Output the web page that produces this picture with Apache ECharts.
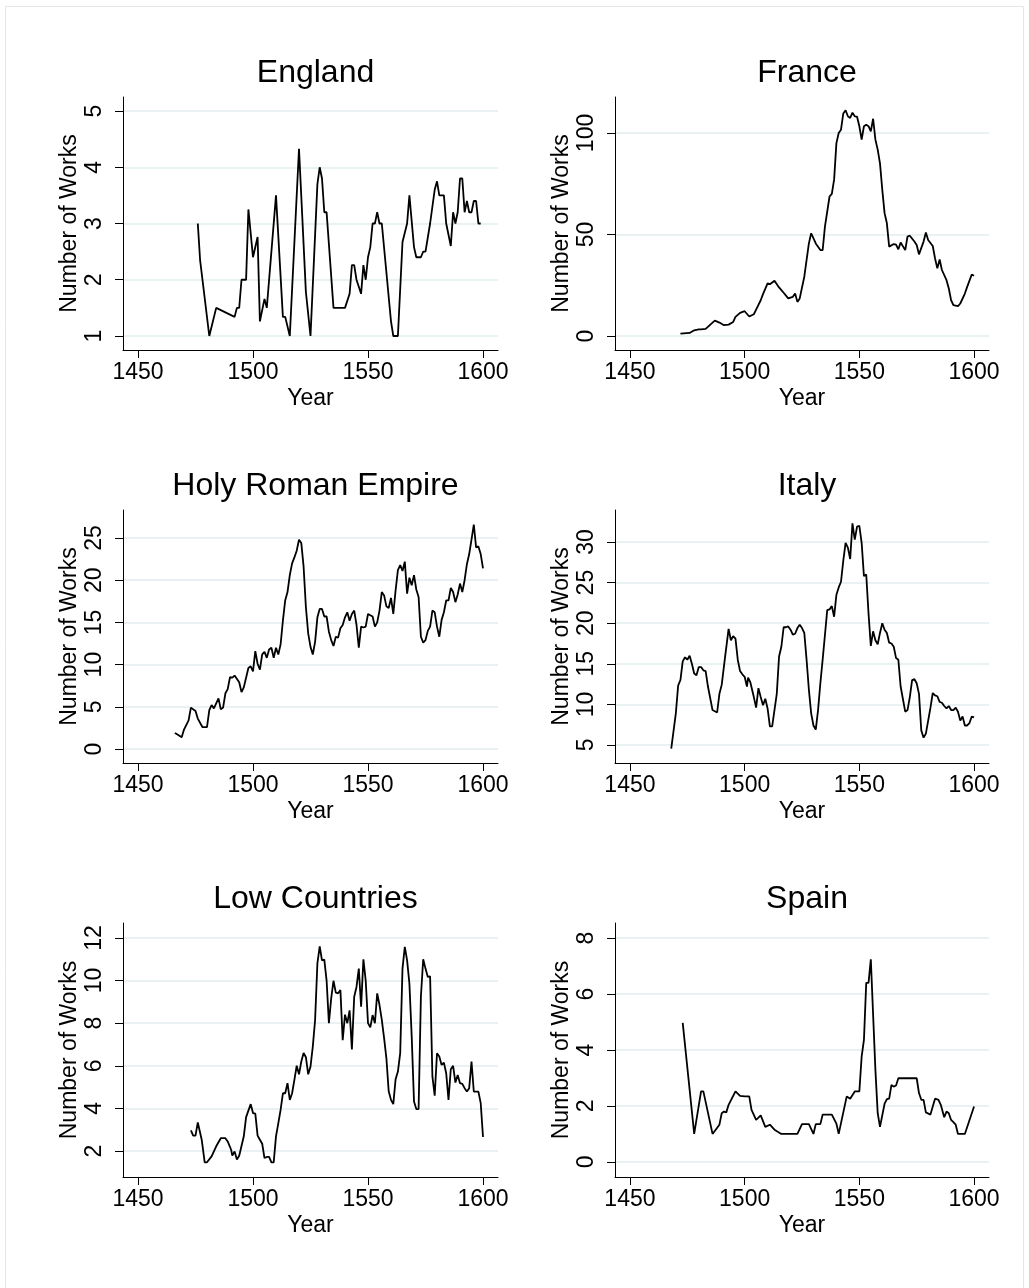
<!DOCTYPE html>
<html>
<head>
<meta charset="utf-8">
<script src="https://cdn.jsdelivr.net/npm/echarts@6/dist/echarts.min.js"></script>
<style>
html,body{margin:0;padding:0;background:#fff;}
#chart{width:1029px;height:1288px;}
</style>
</head>
<body>
<div id="chart"></div>
<script>
// ---------- DATA ----------
const panelTitles = ["England", "France", "Holy Roman Empire", "Italy", "Low Countries", "Spain"];
const xTickLabels = [1450, 1500, 1550, 1600];

const englandYears = [1476,1477,1481,1484,1492,1493,1494,1495,1497,1498,1500,1502,1503,1505,1506,1510,1513,1514,1516,1520,1523,1525,1528,1529,1530,1531,1532,1535,1540,1542,1543,1544,1545,1547,1548,1549,1550,1551,1552,1553,1554,1555,1556,1560,1561,1563,1565,1567,1568,1570,1571,1573,1574,1575,1577,1579,1580,1581,1583,1584,1586,1587,1588,1589,1590,1591,1592,1593,1594,1595,1596,1597,1598,1599];
const englandValues = [3.0,2.35,1.0,1.5,1.34,1.5,1.5,2.0,2.0,3.25,2.4,2.76,1.26,1.66,1.5,3.5,1.34,1.34,1.0,4.33,1.78,1.0,3.7,4.0,3.8,3.2,3.2,1.5,1.5,1.75,2.26,2.26,2.0,1.75,2.26,2.0,2.4,2.58,3.0,3.0,3.2,3.0,3.0,1.26,1.0,1.0,2.67,3.0,3.5,2.58,2.4,2.4,2.5,2.5,3.0,3.6,3.75,3.5,3.5,3.0,2.6,3.2,3.0,3.2,3.8,3.8,3.2,3.4,3.2,3.2,3.4,3.4,3.0,3.0];
const englandTicks = [1, 2, 3, 4, 5];

const franceYears = [1472,1476,1478,1480,1481,1483,1486,1487,1489,1491,1493,1495,1496,1498,1500,1502,1504,1505,1507,1508,1510,1511,1513,1515,1517,1519,1521,1522,1523,1524,1526,1528,1529,1531,1533,1534,1535,1537,1538,1539,1540,1541,1542,1543,1544,1545,1546,1547,1548,1549,1550,1551,1552,1553,1554,1555,1556,1557,1558,1559,1560,1561,1562,1563,1565,1566,1567,1568,1570,1571,1572,1574,1575,1576,1578,1579,1580,1582,1583,1584,1585,1586,1588,1589,1590,1591,1593,1594,1596,1597,1599,1600];
const franceValues = [1.2,1.5,2.8,3.3,3.3,3.5,6.6,7.6,6.6,5.3,5.6,6.9,9.4,11.4,12.2,9.6,10.7,13,17.6,20.6,25.9,25.5,27.2,23.9,21.3,18.5,19.3,20.9,16.8,18.5,29.2,45.6,50.6,45.6,42.3,42.3,53.9,68.7,70,77,95,100,101.6,109.6,111.2,108.2,107.4,110,108.2,108,103.3,96.7,103.3,104,103.3,100.8,107,96.7,91.8,85,72,60.5,55.5,44,45.3,45,42.7,46,42.3,49,49.4,46.5,44.8,40.2,46.5,51,47.3,44.3,38.2,33.3,37.7,32.5,27.5,23.4,17.6,15.2,14.7,16,20.9,24.2,30.3,29.7];
const franceTicks = [0, 50, 100];

const hreYears = [1466,1467,1469,1470,1472,1473,1475,1476,1478,1480,1481,1482,1483,1485,1486,1487,1488,1489,1490,1491,1492,1494,1495,1496,1498,1499,1500,1501,1502,1503,1504,1505,1506,1507,1508,1509,1510,1511,1512,1513,1514,1515,1516,1517,1518,1519,1520,1521,1522,1523,1524,1525,1526,1527,1528,1529,1530,1531,1532,1533,1534,1535,1536,1537,1538,1539,1540,1541,1542,1543,1544,1545,1546,1547,1548,1549,1550,1552,1553,1554,1555,1556,1557,1558,1559,1560,1561,1562,1563,1564,1565,1566,1567,1568,1569,1570,1571,1572,1573,1574,1575,1576,1577,1578,1579,1580,1581,1582,1583,1584,1585,1586,1587,1588,1589,1590,1591,1592,1593,1594,1595,1596,1597,1598,1599,1600];
const hreValues = [1.9,1.74,1.4,2.3,3.4,4.9,4.5,3.6,2.6,2.6,4.6,5.2,4.8,6.0,4.7,4.9,6.6,7.1,8.5,8.45,8.7,7.9,6.75,7.3,9.6,9.8,9.2,11.6,10.1,9.4,11.2,11.5,10.8,11.8,12.0,10.8,12.0,11.2,12.4,15.2,17.6,18.6,20.6,22,22.7,23.5,24.8,24.4,21.6,16.8,13.7,12.1,11.2,12.7,15.6,16.6,16.6,15.7,15.7,13.9,12.9,12.2,13.3,13.2,14.3,14.7,15.6,16.2,15.2,16.0,16.4,14.7,12.0,14.5,14.4,14.5,16.0,15.7,14.5,15.0,16.4,18.6,18.2,16.9,16.7,17.9,16.0,18.8,21.2,21.8,21.1,22.2,18.4,20.3,19.4,20.6,18.9,18.0,13.3,12.6,12.9,14.0,14.5,16.4,16.2,14.5,13.3,15.3,16.2,17.6,17.6,19.1,18.6,17.4,18.3,19.6,18.6,20.0,21.9,23.1,24.8,26.6,23.9,24.0,23.1,21.4];
const hreTicks = [0, 5, 10, 15, 20, 25];

const italyYears = [1468,1470,1471,1472,1473,1474,1475,1476,1477,1478,1479,1480,1481,1482,1483,1484,1486,1488,1489,1490,1491.5,1493,1494,1495,1496,1497,1498,1499,1500,1501,1501.5,1502.5,1504,1505,1506,1507,1508,1509,1510,1511,1512,1514,1515,1516,1517,1518,1519,1520,1521,1522,1523,1524,1525,1526,1527,1528,1529,1530,1531,1532,1533,1534,1536,1537,1538,1539,1540,1541,1542,1543,1544,1545,1546,1547,1548,1549,1550,1551,1552,1553,1554,1555,1556,1557,1558,1559,1560,1561,1562,1563,1564,1565,1566,1567,1568,1570,1571,1572,1573,1574,1575,1576,1577,1578,1579,1580,1581,1582,1583,1584,1585,1586,1587,1588,1589,1590,1591,1592,1593,1594,1595,1596,1597,1598,1599,1600];
const italyValues = [4.55,8.9,12.3,13.0,15.3,15.8,15.5,16.0,15.0,13.8,13.6,14.6,14.6,14.2,14.1,12.2,9.3,9.0,11.3,12.4,15.9,19.3,17.9,18.4,18.1,15.5,14.1,13.7,13.4,12.2,13.3,12.7,10.9,9.6,12.0,10.9,9.9,10.7,9.5,7.3,7.3,11.3,15.9,17.1,19.5,19.5,19.6,19.2,18.6,18.7,19.4,19.8,19.4,18.8,15.5,11.8,8.9,7.4,6.9,9.3,12.6,15.5,21.6,21.7,22.1,20.8,23.5,24.4,25.1,27.7,29.9,29.3,27.9,32.3,30.3,31.9,32.0,29.9,25.8,26.0,21.2,17.2,19.0,17.9,17.4,18.8,20.0,19.2,18.8,17.6,17.5,17.1,15.7,15.5,12.2,9.1,9.3,10.9,13.0,13.1,12.6,11.3,6.8,5.9,6.4,8.0,9.6,11.4,11.1,11.0,10.3,10.2,9.8,9.5,9.8,9.3,9.3,9.6,9.1,8.0,8.5,7.4,7.4,7.7,8.5,8.4];
const italyTicks = [5, 10, 15, 20, 25, 30];

const lowYears = [1473,1474,1475,1476,1477.7,1479,1480,1482,1484,1486,1488,1489,1490.5,1491,1492,1493,1494,1496,1497,1499,1500,1501,1502,1503,1504,1505,1506,1507,1508,1509,1510,1511,1512,1513,1514,1515,1516,1517,1518,1519,1520,1521,1522,1523,1524,1525,1526,1527,1528,1529,1530,1531,1532,1533,1534,1535,1536,1537,1538,1539,1540,1541,1542,1543,1544,1545,1546,1547,1548,1549,1550,1551,1552,1553,1554,1555,1556,1557,1558,1559,1560,1561,1562,1563,1564,1565,1566,1567,1568,1569,1570,1571,1572,1573,1574,1575,1576,1577,1578,1579,1580,1581,1582,1583,1584,1585,1586,1587,1588,1589,1590,1591,1592,1593,1594,1595,1596,1597,1598,1599,1600];
const lowValues = [2.97,2.72,2.72,3.34,2.53,1.47,1.47,1.75,2.22,2.6,2.6,2.45,2.06,1.78,1.98,1.6,1.78,2.69,3.59,4.2,3.78,3.75,2.72,2.53,2.34,1.67,1.72,1.72,1.47,1.47,2.69,3.3,3.93,4.71,4.71,5.18,4.4,4.71,5.34,6.0,5.6,6.2,6.6,6.4,5.6,5.96,6.9,8.15,10.8,11.6,10.95,10.98,10.0,8.0,9.16,9.99,9.43,9.4,9.55,7.2,8.4,8.0,8.6,6.77,9.24,9.7,10.56,8.77,11.0,10.0,8.0,7.8,8.38,8.0,9.4,8.85,8.15,7.3,6.35,4.8,4.4,4.2,5.37,5.73,6.59,10.56,11.58,10.95,9.86,7.37,4.32,3.97,3.97,9.24,11.0,10.56,10.17,10.2,5.5,4.6,6.59,6.43,6.04,6.15,5.65,4.4,5.84,6.0,5.21,5.57,5.18,5.15,4.95,4.79,4.95,6.2,4.79,4.79,4.79,4.25,2.66];
const lowTicks = [2, 4, 6, 8, 10, 12];

const spainYears = [1473,1478,1481,1482,1486,1489,1490,1491,1492,1493,1496,1498,1500,1502,1503,1505,1507,1509,1511,1513,1516,1523,1525,1528,1530,1531,1533,1534,1538,1540,1541,1544.5,1546,1548,1550,1551,1552,1553,1554,1555,1557,1558,1559,1561,1562,1563,1564,1565,1566,1567,1575,1576,1577,1578,1579,1581,1582,1583,1584.5,1585.5,1587,1588,1589,1590,1591,1592,1593,1596,1600];
const spainValues = [4.97,1.0,2.52,2.52,1.0,1.33,1.74,1.8,1.77,2.04,2.52,2.36,2.34,2.34,1.86,1.5,1.66,1.25,1.33,1.15,1.0,1.0,1.35,1.35,1.0,1.35,1.35,1.69,1.69,1.37,1.0,2.34,2.26,2.52,2.52,3.76,4.36,6.4,6.4,7.24,3.29,1.74,1.25,2.08,2.24,2.26,2.75,2.69,2.73,2.99,2.99,2.46,2.22,2.22,1.77,1.69,1.98,2.26,2.22,2.04,1.6,1.8,1.74,1.5,1.42,1.33,1.0,1.0,1.98];
const spainTicks = [0, 2, 4, 6, 8];

// ---------- LAYOUT ----------
const FONT = "'Liberation Sans', Arial, Helvetica, sans-serif";
const panels = [
  {years: englandYears, values: englandValues, ticks: englandTicks, yMin: 0.751, yMax: 5.249},
  {years: franceYears, values: franceValues, ticks: franceTicks, yMin: -6.9, yMax: 117.7},
  {years: hreYears, values: hreValues, ticks: hreTicks, yMin: -1.66, yMax: 28.32},
  {years: italyYears, values: italyValues, ticks: italyTicks, yMin: 2.78, yMax: 33.94},
  {years: lowYears, values: lowValues, ticks: lowTicks, yMin: 0.78, yMax: 12.70},
  {years: spainYears, values: spainValues, ticks: spainTicks, yMin: -0.54, yMax: 8.54}
];
const colLeft = [123, 615];
const colWidth = [375, 374];
const rowTop = [97, 510, 923];
const rowHeight = [253, 253, 254];
const titleTop = [52, 465, 878];
const plain = v => String(v);

const grids = [], xAxes = [], yAxes = [], series = [], titles = [];
panels.forEach((p, i) => {
  const c = i % 2, r = Math.floor(i / 2);
  grids.push({left: colLeft[c], top: rowTop[r], width: colWidth[c], height: rowHeight[r], containLabel: false});
  titles.push({
    text: panelTitles[i],
    left: colLeft[c] + colWidth[c] / 2,
    top: titleTop[r],
    textAlign: 'center',
    textStyle: {fontFamily: FONT, fontSize: 32, fontWeight: 'normal', color: '#000'}
  });
  xAxes.push({
    type: 'value', gridIndex: i, min: 1443.48, max: 1606.52,
    name: 'Year', nameLocation: 'middle', nameGap: 37,
    nameTextStyle: {fontFamily: FONT, fontSize: 23, color: '#000'},
    axisLine: {show: true, onZero: false, lineStyle: {color: '#000', width: 1}},
    axisTick: {show: true, length: 8, lineStyle: {color: '#000', width: 1}, customValues: xTickLabels},
    axisLabel: {show: true, fontFamily: FONT, fontSize: 23, color: '#000', margin: 11, customValues: xTickLabels, formatter: plain},
    splitLine: {show: false}
  });
  yAxes.push({
    type: 'value', gridIndex: i, min: p.yMin, max: p.yMax,
    name: 'Number of Works', nameLocation: 'middle', nameGap: 42, nameRotate: 90,
    nameTextStyle: {fontFamily: FONT, fontSize: 23, color: '#000'},
    axisLine: {show: true, onZero: false, lineStyle: {color: '#000', width: 1}},
    axisTick: {show: true, length: 8, lineStyle: {color: '#000', width: 1}, customValues: p.ticks},
    axisLabel: {show: true, rotate: 90, fontFamily: FONT, fontSize: 23, color: '#000', margin: 17, customValues: p.ticks, formatter: plain},
    splitLine: {show: true, lineStyle: {color: '#eaf1f3', width: 2}}
  });
  series.push({
    type: 'line', xAxisIndex: i, yAxisIndex: i,
    data: p.years.map((y, k) => [y, p.values[k]]),
    showSymbol: false, symbol: 'none', animation: false,
    lineStyle: {color: '#000', width: 1.8}, z: 5
  });
});

const chart = echarts.init(document.getElementById('chart'), null, {renderer: 'canvas'});
chart.setOption({
  backgroundColor: '#fff',
  animation: false,
  title: titles,
  grid: grids,
  xAxis: xAxes,
  yAxis: yAxes,
  series: series,
  graphic: [{
    type: 'rect', silent: true,
    shape: {x: 5.5, y: 6.5, width: 1018, height: 1290},
    style: {fill: 'none', stroke: '#e6e6e6', lineWidth: 1}
  }]
});
</script>
</body>
</html>
